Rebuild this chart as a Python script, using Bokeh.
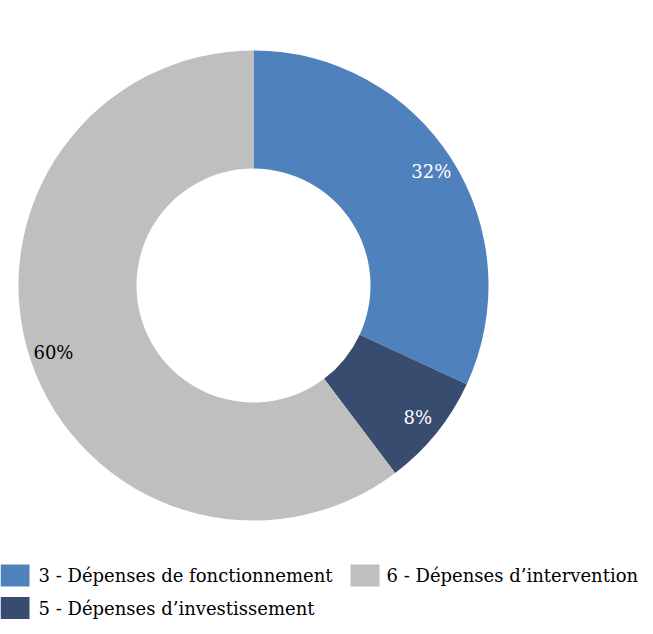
import math
from bokeh.plotting import figure
from bokeh.models import Range1d, ColumnDataSource
from bokeh.core.properties import value
from bokeh.embed import file_html
from bokeh.resources import INLINE

# ---- data ----
categories = ["3 - Dépenses de fonctionnement", "5 - Dépenses d\u2019investissement", "6 - Dépenses d\u2019intervention"]
shares = [31.9, 7.8, 60.3]
colors = ["#4F81BD", "#374C6E", "#BFBFBF"]
label_colors = ["#FFFFFF", "#FFFFFF", "#000000"]

FONT = "DejaVu Serif"
W, H = 645, 626

p = figure(width=W, height=H, output_backend="svg", toolbar_location=None,
           x_range=Range1d(0, W), y_range=Range1d(0, H), min_border=0)
p.axis.visible = False
p.grid.visible = False
p.outline_line_color = None
p.background_fill_color = "white"
p.border_fill_color = "white"

# screen coordinates -> data coordinates
def X(px):
    return px
def Y(py):
    return H - py

cx, cy = X(253), Y(285)
r_out, r_in = 235, 117

total = sum(shares)
starts, ends, lx, ly, labels = [], [], [], [], []
cum = 0.0
for s in shares:
    a0 = math.pi / 2 - 2 * math.pi * cum / total
    cum += s
    a1 = math.pi / 2 - 2 * math.pi * cum / total
    starts.append(a0)
    ends.append(a1)
    mid = (a0 + a1) / 2
    lx.append(cx + 211 * math.cos(mid))
    ly.append(cy + 211 * math.sin(mid))
    labels.append(f"{round(s)}%")

src = ColumnDataSource(dict(start=starts, end=ends, color=colors, lx=lx, ly=ly,
                            label=labels, lcolor=label_colors))
p.annular_wedge(x=cx, y=cy, inner_radius=r_in, outer_radius=r_out,
                start_angle="start", end_angle="end", direction="clock",
                fill_color="color", line_color=None, source=src)
p.text(x="lx", y="ly", text="label", text_color="lcolor", source=src,
       text_font=value(FONT), text_font_size="18px",
       text_align="center", text_baseline="middle")

# ---- legend (manual) ----
leg_order = [0, 2, 1]
leg_pos = [(0, 575), (350, 575), (0, 607.5)]
for idx, (lxp, lyp) in zip(leg_order, leg_pos):
    p.rect(x=X(lxp) + 14.5, y=Y(lyp), width=29, height=22,
           fill_color=colors[idx], line_color=None)
    p.text(x=[X(lxp) + (38 if lxp == 0 else 36)], y=[Y(lyp)], text=[categories[idx]],
           text_font=value(FONT), text_font_size="18px", text_color="#000000",
           text_align="left", text_baseline="middle")

open("out.html", "w").write(file_html(p, INLINE))
